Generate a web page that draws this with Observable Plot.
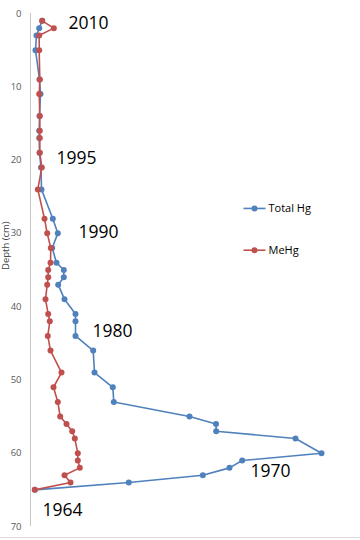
<!DOCTYPE html>
<html>
<head>
<meta charset="utf-8">
<script src="https://cdn.jsdelivr.net/npm/d3@7"></script>
<script src="https://cdn.jsdelivr.net/npm/@observablehq/plot@0.6"></script>
<style>
  html, body { margin: 0; padding: 0; background: #fff; }
  #wrap { position: relative; width: 360px; height: 540px; overflow: hidden; }
  #wrap svg { position: absolute; left: 0; top: 0; }
  #edge { position: absolute; left: 0; top: 537px; width: 360px; height: 1px; background: #d9d9d9; }
</style>
</head>
<body>
<div id="wrap"><div id="edge"></div></div>
<script>
// Total Hg profile (arbitrary concentration units), depth in cm
const depthTotal = [1, 2, 3, 5, 9, 11, 14, 16, 17, 19, 21, 24, 28, 30, 32, 34, 35, 36, 37, 39, 41, 42, 44, 46, 49, 51, 53, 55, 56, 57, 58, 60, 61, 62, 63, 64, 65];
const totalHg    = [11.7, 8.7, 6, 5, 9, 10, 9, 8.7, 8.7, 9, 10.5, 11, 22.3, 27.3, 21.7, 26, 33.3, 33.3, 27.7, 34, 45, 45, 45, 62.7, 64, 82.3, 83.3, 159, 185.5, 185.7, 265, 291, 211.7, 199, 172.3, 98.3, 4.3];

// MeHg profile (same arbitrary scale), depth in cm
const depthMe = [1, 2, 3, 5, 9, 11, 14, 16, 17, 19, 21, 24, 28, 30, 32, 34, 35, 36, 37, 39, 41, 42, 44, 46, 49, 51, 53, 55, 56, 57, 58, 60, 61, 62, 63, 64, 65];
const meHg    = [11.7, 23.3, 8.7, 8.7, 9.3, 8.7, 9.3, 9.3, 9.3, 9.3, 11.3, 7.3, 14, 16.7, 20.3, 20, 17.7, 17.7, 16.7, 15, 17.7, 19.3, 17.3, 20, 31, 23, 27.3, 29.7, 36, 41.7, 44.3, 47.3, 47.3, 49.3, 34, 40, 4.3];

const yTicks = [0, 10, 20, 30, 40, 50, 60, 70];

// Year annotations (label, x in data units, depth)
const yearLabels = ["2010", "1995", "1990", "1980", "1970", "1964"];
const yearX      = [58, 46, 68, 82, 240, 32];
const yearDepth  = [1.4, 19.8, 29.9, 43.4, 62.5, 67.8];

// Legend
const seriesNames  = ["Total Hg", "MeHg"];
const seriesColors = ["#4F81BD", "#C0504D"];
const legendDepth  = [26.6, 32.3];

const total = depthTotal.map((d, i) => ({depth: d, value: totalHg[i]}));
const me = depthMe.map((d, i) => ({depth: d, value: meHg[i]}));
const years = yearLabels.map((t, i) => ({t, x: yearX[i], depth: yearDepth[i]}));
const legend = seriesNames.map((n, i) => ({name: n, color: seriesColors[i], depth: legendDepth[i]}));

const font = "'Open Sans', 'Liberation Sans', sans-serif";

const chart = Plot.plot({
  width: 360,
  height: 540,
  marginTop: 13,
  marginBottom: 14,
  marginLeft: 30,
  marginRight: 20,
  style: {fontFamily: font, background: "transparent", overflow: "visible"},
  x: {domain: [0, 310], axis: null},
  y: {domain: [0, 70], reverse: true, axis: null},
  marks: [
    Plot.ruleX([0], {y1: 0, y2: 70, stroke: "#c6c6c6", strokeWidth: 1}),
    Plot.axisY({ticks: yTicks, tickSize: 0, tickPadding: 9, fontSize: 9.5, fill: "#595959", label: null}),
    Plot.text(["Depth (cm)"], {frameAnchor: "left", dx: -25, rotate: -90, fontSize: 9.5, fill: "#404040"}),
    Plot.line(total, {x: "value", y: "depth", stroke: seriesColors[0], strokeWidth: 1.6, curve: "linear"}),
    Plot.dot(total, {x: "value", y: "depth", r: 3, fill: seriesColors[0]}),
    Plot.line(me, {x: "value", y: "depth", stroke: seriesColors[1], strokeWidth: 1.6, curve: "linear"}),
    Plot.dot(me, {x: "value", y: "depth", r: 3, fill: seriesColors[1]}),
    Plot.text(years, {x: "x", y: "depth", text: "t", fontSize: 17.5, fill: "#000", textAnchor: "middle"}),
    Plot.link(legend, {x1: 213, x2: 235, y1: "depth", y2: "depth", stroke: "color", strokeWidth: 1.6}),
    Plot.dot(legend, {x: 224, y: "depth", r: 3, fill: "color"}),
    Plot.text(legend, {x: 238, y: "depth", text: "name", textAnchor: "start", fontSize: 11, fill: "#000"})
  ]
});
document.getElementById("wrap").appendChild(chart);
</script>
</body>
</html>
